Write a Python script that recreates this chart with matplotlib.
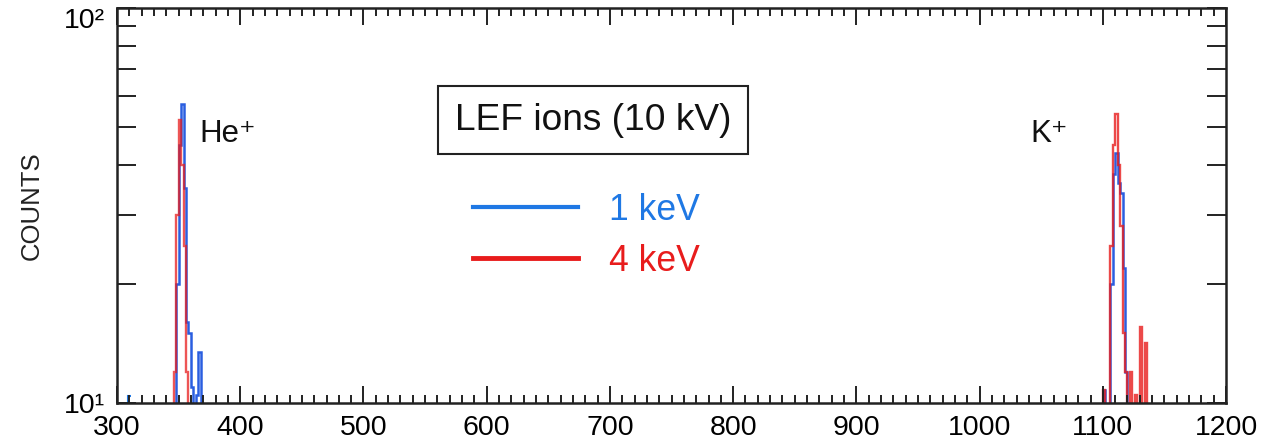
import numpy as np
import matplotlib
matplotlib.use("Agg")
import matplotlib.pyplot as plt
from matplotlib.ticker import MultipleLocator, FixedLocator, NullFormatter
from matplotlib.lines import Line2D

plt.rcParams['font.family'] = ['Liberation Sans', 'DejaVu Sans']

# ---- data (histogram bins: left edges, 2-unit wide) ----
he_edges = [342, 344, 346, 348, 350, 352, 354, 356, 358, 360, 362, 364, 366, 368, 370]
he_blue = [3, 5, 8, 20, 45, 57, 35, 16, 15, 11, 9, 10.5, 13.5, 6]
he_red = [3, 5, 12, 30, 52, 40, 25, 12, 8, 5, 3, 3, 3, 3]

k_edges = [1098, 1100, 1102, 1104, 1106, 1108, 1110, 1112, 1114, 1116, 1118, 1120,
           1122, 1124, 1126, 1128, 1130, 1132, 1134, 1136, 1138]
k_blue = [5, 10.8, 5, 8, 20, 38, 43, 36, 34, 22, 12, 8, 5, 3, 3, 3, 3, 3, 3, 3]
k_red = [5, 10.8, 5, 9, 25, 45, 54, 40, 28, 15, 12, 9, 12, 9, 10.5, 9, 15.6, 9, 14.2, 6]

stray_edges = [307, 309, 311]
stray_blue = [3, 10.4]

series_labels = ['1 keV', '4 keV']
blue_c = '#1f78e4'
red_c = '#e81c1c'

fig = plt.figure(figsize=(12.79, 4.45), dpi=100)
ax = fig.add_axes([0.0915, 0.0944, 0.8671, 0.8876])

ax.set_yscale('log')

ax.stairs(stray_blue, stray_edges, color=blue_c, lw=1.5, baseline=None)
ax.stairs(he_blue, he_edges, color='#2a5ee0', lw=1.8, baseline=None)
ax.stairs(k_blue, k_edges, color='#2a5ee0', lw=1.8, baseline=None)
ax.stairs(he_red, he_edges, color=red_c, lw=1.7, alpha=0.75, baseline=None)
ax.stairs(k_red, k_edges, color=red_c, lw=1.7, alpha=0.8, baseline=None)

ax.set_xlim(300, 1200)
ax.set_ylim(10, 100)

# ticks
ax.xaxis.set_major_locator(MultipleLocator(100))
ax.xaxis.set_minor_locator(MultipleLocator(10))
ax.yaxis.set_major_locator(FixedLocator([10, 100]))
ax.yaxis.set_minor_locator(FixedLocator([20, 30, 40, 50, 60, 70, 80, 90]))
ax.yaxis.set_minor_formatter(NullFormatter())
ax.set_yticklabels(['10\u00b9', '10\u00b2'])
ax.tick_params(axis='both', which='both', direction='in', top=True, right=True,
               width=1.4, color='#222222')
ax.tick_params(axis='x', which='major', length=12, labelsize=20.5, pad=9)
ax.tick_params(axis='x', which='minor', length=6)
ax.tick_params(axis='y', which='major', length=14, labelsize=20.5, pad=9)
ax.tick_params(axis='y', which='minor', length=14)
ylabs = ax.get_yticklabels()
ylabs[1].set_va('top')
for s in ax.spines.values():
    s.set_linewidth(1.8)
    s.set_color('#222222')

ax.set_ylabel('COUNTS', fontsize=18.5, color='#222222')
ax.yaxis.set_label_coords(-0.066, 0.5)

ax.text(367, 48, 'He\u207a', fontsize=22.5, va='center', ha='left', color='#111111')
ax.text(1041, 48, 'K\u207a', fontsize=22.5, va='center', ha='left', color='#111111')

ax.text(0.429, 0.716, 'LEF ions (10 kV)', transform=ax.transAxes, fontsize=26.7,
        ha='center', va='center', color='#111111',
        bbox=dict(boxstyle='square,pad=0.45', fc='white', ec='#222222', lw=1.5))

handles = [Line2D([], [], color=blue_c, lw=3), Line2D([], [], color=red_c, lw=3.5)]
ax.legend(handles, series_labels, loc='upper left', bbox_to_anchor=(0.321, 0.532),
          frameon=False, fontsize=25.6, handlelength=2.95, handletextpad=0.87,
          labelspacing=0.45, borderpad=0, borderaxespad=0, labelcolor='linecolor')

fig.savefig('out.png', dpi=100)
